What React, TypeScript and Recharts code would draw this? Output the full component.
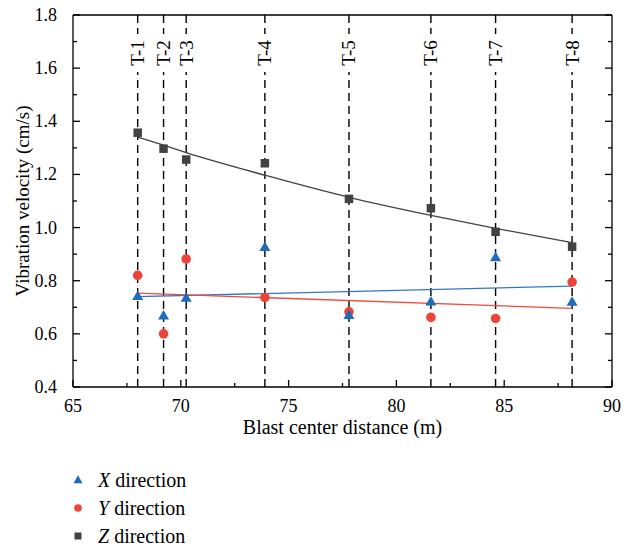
import React from 'react';
import { ComposedChart, Scatter, Line, XAxis, YAxis, ReferenceLine, Legend } from 'recharts';

// measuring points T-1 ... T-8
const pointLabels = ['T-1', 'T-2', 'T-3', 'T-4', 'T-5', 'T-6', 'T-7', 'T-8'];
const distances = [68.0, 69.2, 70.25, 73.9, 77.8, 81.6, 84.6, 88.15];

// peak vibration velocity (cm/s)
const xVelocity = [0.742, 0.668, 0.735, 0.926, 0.67, 0.721, 0.888, 0.72];
const yVelocity = [0.82, 0.6, 0.882, 0.737, 0.683, 0.662, 0.658, 0.795];
const zVelocity = [1.357, 1.297, 1.256, 1.242, 1.108, 1.073, 0.984, 0.928];

// fitted curves
const zFitted = [1.34, 1.31, 1.282, 1.197, 1.114, 1.046, 0.997, 0.943];
const xFitEnds = [0.74, 0.78];
const yFitEnds = [0.753, 0.696];

const xTicks = [65, 67.5, 70, 72.5, 75, 77.5, 80, 82.5, 85, 87.5, 90];
const yTicks = [0.4, 0.5, 0.6, 0.7, 0.8, 0.9, 1.0, 1.1, 1.2, 1.3, 1.4, 1.5, 1.6, 1.7, 1.8];

const BLUE = '#1f6cbd';
const RED = '#ef4338';
const GREY = '#404244';
const FONT = "'Liberation Serif', 'DejaVu Serif', 'Noto Serif', serif";

const xData = distances.map((d, i) => ({ x: d, y: xVelocity[i] }));
const yData = distances.map((d, i) => ({ x: d, y: yVelocity[i] }));
const zData = distances.map((d, i) => ({ x: d, y: zVelocity[i] }));
const zFitData = distances.map((d, i) => ({ x: d, y: zFitted[i] }));
const ends = [distances[0], distances[distances.length - 1]];
const xFitData = ends.map((d, i) => ({ x: d, y: xFitEnds[i] }));
const yFitData = ends.map((d, i) => ({ x: d, y: yFitEnds[i] }));

const isMajorX = (v: number) => Math.abs(v % 5) < 1e-6;
const isMajorY = (v: number) => Math.abs(v * 5 - Math.round(v * 5)) < 1e-6;

const BottomTick = ({ x, y, payload }: any) => {
  const major = isMajorX(payload.value);
  return (
    <g>
      <line x1={x} x2={x} y1={y} y2={y - (major ? 7 : 4)} stroke="#000" strokeWidth={1.3} />
      {major && (
        <text x={x} y={y + 25} textAnchor="middle" fill="#000" style={{ fontFamily: FONT, fontSize: 18 }}>
          {payload.value}
        </text>
      )}
    </g>
  );
};

const TopTick = ({ x, y, payload }: any) => {
  const major = isMajorX(payload.value);
  return <line x1={x} x2={x} y1={y} y2={y + (major ? 7 : 4)} stroke="#000" strokeWidth={1.3} />;
};

const LeftTick = ({ x, y, payload }: any) => {
  const major = isMajorY(payload.value);
  return (
    <g>
      <line x1={x} x2={x + (major ? 7 : 4)} y1={y} y2={y} stroke="#000" strokeWidth={1.3} />
      {major && (
        <text x={x - 16} y={y + 6} textAnchor="end" fill="#000" style={{ fontFamily: FONT, fontSize: 18 }}>
          {payload.value.toFixed(1)}
        </text>
      )}
    </g>
  );
};

const RightTick = ({ x, y, payload }: any) => {
  const major = isMajorY(payload.value);
  return <line x1={x} x2={x - (major ? 7 : 4)} y1={y} y2={y} stroke="#000" strokeWidth={1.3} />;
};

const triangle = (cx: number, cy: number, w: number) => {
  const h = w * 0.87;
  return (
    <polygon
      points={`${cx},${cy - h * 0.6} ${cx - w / 2},${cy + h * 0.4} ${cx + w / 2},${cy + h * 0.4}`}
      fill={BLUE}
    />
  );
};
const dot = (cx: number, cy: number, r: number) => <circle cx={cx} cy={cy} r={r} fill={RED} />;
const square = (cx: number, cy: number, s: number) => (
  <rect x={cx - s / 2} y={cy - s / 2} width={s} height={s} fill={GREY} />
);

const TriangleShape = (p: any) => triangle(p.cx, p.cy, 11);
const DotShape = (p: any) => dot(p.cx, p.cy, 4.8);
const SquareShape = (p: any) => square(p.cx, p.cy, 8.5);

const legendItems = [
  { axis: 'X', marker: triangle(10, 8, 9) },
  { axis: 'Y', marker: dot(10, 8, 3.8) },
  { axis: 'Z', marker: square(10, 8, 7) },
];

const LegendContent = () => (
  <div style={{ fontFamily: FONT, fontSize: 20, color: '#000' }}>
    {legendItems.map((item) => (
      <div key={item.axis} style={{ display: 'flex', alignItems: 'center', height: 28 }}>
        <svg width={20} height={16}>{item.marker}</svg>
        <span style={{ marginLeft: 10 }}>
          <i>{item.axis}</i> direction
        </span>
      </div>
    ))}
  </div>
);

const TLabel = ({ viewBox, text }: any) => {
  const x = viewBox.x;
  const cy = viewBox.y + 38;
  return (
    <g>
      <rect x={x - 8} y={cy - 19} width={16} height={38} fill="#fff" />
      <text
        x={x}
        y={cy}
        transform={`rotate(-90, ${x}, ${cy})`}
        textAnchor="middle"
        dominantBaseline="central"
        fill="#000"
        style={{ fontFamily: FONT, fontSize: 19 }}
      >
        {text}
      </text>
    </g>
  );
};

export default function App() {
  return (
    <div style={{ position: 'absolute', left: 0, top: 0, background: '#fff', fontFamily: FONT }}>
      <ComposedChart width={627} height={547} margin={{ top: 14, right: 14, left: 0, bottom: 100 }}>
        <XAxis
          dataKey="x"
          type="number"
          domain={[65, 90]}
          ticks={xTicks}
          allowDataOverflow
          height={60}
          stroke="#000"
          strokeWidth={1.3}
          tickLine={false}
          tickSize={0}
          tickMargin={0}
          tick={<BottomTick />}
          interval={0}
          label={{
            value: 'Blast center distance (m)',
            position: 'insideBottom',
            offset: 13,
            fill: '#000',
            style: { fontFamily: FONT, fontSize: 20 },
          }}
        />
        <XAxis
          xAxisId="top"
          orientation="top"
          type="number"
          domain={[65, 90]}
          ticks={xTicks}
          allowDataOverflow
          height={1}
          stroke="#000"
          strokeWidth={1.3}
          tickLine={false}
          tickSize={0}
          tickMargin={0}
          tick={<TopTick />}
          interval={0}
        />
        <YAxis
          dataKey="y"
          type="number"
          domain={[0.4, 1.8]}
          ticks={yTicks}
          allowDataOverflow
          width={73}
          stroke="#000"
          strokeWidth={1.3}
          tickLine={false}
          tickSize={0}
          tickMargin={0}
          tick={<LeftTick />}
          interval={0}
          label={{
            value: 'Vibration velocity (cm/s)',
            angle: -90,
            position: 'insideLeft',
            offset: 22,
            fill: '#000',
            style: { textAnchor: 'middle', fontFamily: FONT, fontSize: 19 },
          }}
        />
        <YAxis
          yAxisId="right"
          orientation="right"
          type="number"
          domain={[0.4, 1.8]}
          ticks={yTicks}
          allowDataOverflow
          width={1}
          stroke="#000"
          strokeWidth={1.3}
          tickLine={false}
          tickSize={0}
          tickMargin={0}
          tick={<RightTick />}
          interval={0}
        />
        {distances.map((d, i) => (
          <ReferenceLine
            key={pointLabels[i]}
            x={d}
            stroke="#000"
            strokeWidth={1.4}
            strokeDasharray="8 5"
            label={(props: any) => <TLabel {...props} text={pointLabels[i]} />}
          />
        ))}
        <Line data={zFitData} dataKey="y" type="monotone" stroke={GREY} strokeWidth={1.3} dot={false} isAnimationActive={false} legendType="none" />
        <Line data={xFitData} dataKey="y" type="linear" stroke="#2f78c8" strokeWidth={1.3} dot={false} isAnimationActive={false} legendType="none" />
        <Line data={yFitData} dataKey="y" type="linear" stroke="#f0493e" strokeWidth={1.3} dot={false} isAnimationActive={false} legendType="none" />
        <Scatter name="Z direction" data={zData} shape={SquareShape} isAnimationActive={false} />
        <Scatter name="Y direction" data={yData} shape={DotShape} isAnimationActive={false} />
        <Scatter name="X direction" data={xData} shape={TriangleShape} isAnimationActive={false} />
        <Legend
          layout="vertical"
          align="center"
          verticalAlign="middle"
          content={<LegendContent />}
          wrapperStyle={{ left: 68, top: 466, width: 220 }}
        />
      </ComposedChart>
    </div>
  );
}
